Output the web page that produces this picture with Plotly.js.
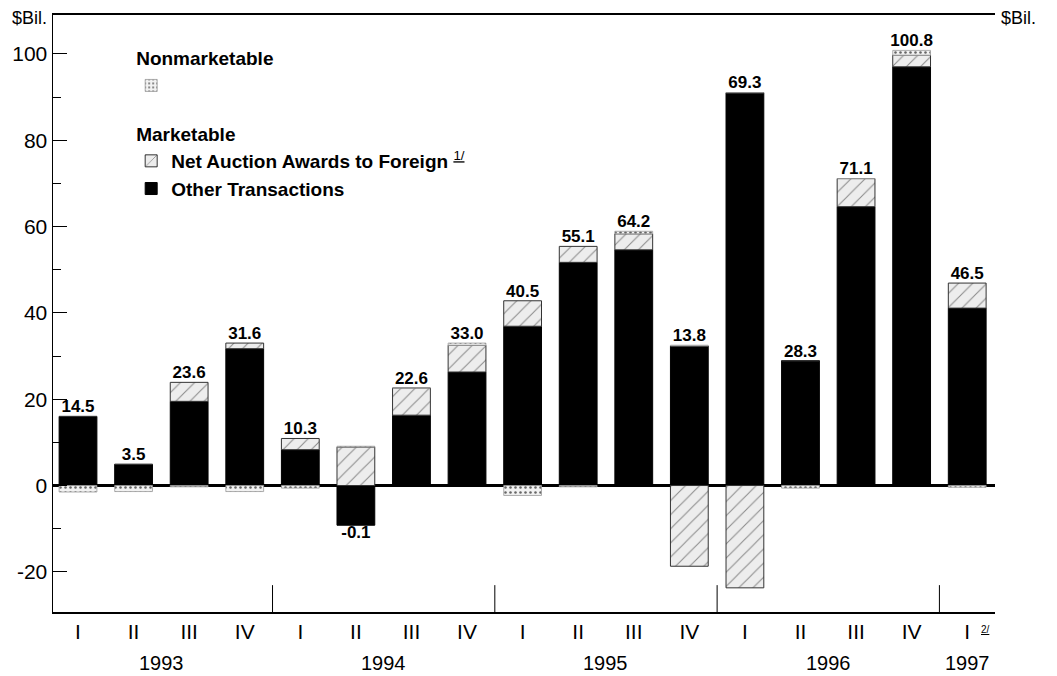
<!DOCTYPE html>
<html>
<head>
<meta charset="utf-8">
<script src="https://cdn.plot.ly/plotly-3.0.1.min.js"></script>
<style>html,body{margin:0;padding:0;background:#fff;}#chart{width:1057px;height:676px;}</style>
</head>
<body>
<div id="chart"></div>
<script>
// Quarter categories and tick labels
const categories = ["1993 I","1993 II","1993 III","1993 IV","1994 I","1994 II","1994 III","1994 IV",
  "1995 I","1995 II","1995 III","1995 IV","1996 I","1996 II","1996 III","1996 IV","1997 I"];
const quarterLabels = ["I","II","III","IV","I","II","III","IV","I","II","III","IV","I","II","III","IV","I"];
const years = ["1993","1994","1995","1996","1997"];
const yearCenters = [1.5, 5.5, 9.5, 13.5, 16];
const yearDividers = [3.5, 7.5, 11.5, 15.5];
const yTickVals = [-20, 0, 20, 40, 60, 80, 100];
const yTickText = ["-20", "0", "20", "40", "60", "80", "100"];

// Series values ($ billions)
const otherTransactions = [16.0, 4.9, 19.5, 31.7, 8.3, -9.2, 16.3, 26.3, 36.9, 51.7, 54.6, 32.3, 91.0, 28.9, 64.6, 97.0, 41.1];
const netAuctionForeign = [0, 0, 4.4, 1.3, 2.6, 8.9, 6.3, 6.2, 5.9, 3.7, 3.7, -18.7, -23.7, 0, 6.5, 2.7, 5.8];
const nonmarketable     = [-1.5, -1.4, -0.3, -1.4, -0.6, 0.2, 0, 0.5, -2.3, -0.3, 0.6, 0.2, 0, -0.6, 0, 1.1, -0.4];
// Printed totals above bars
const totals = [14.5, 3.5, 23.6, 31.6, 10.3, -0.1, 22.6, 33.0, 40.5, 55.1, 64.2, 13.8, 69.3, 28.3, 71.1, 100.8, 46.5];

const FONT = "Liberation Sans, Arial, Helvetica, sans-serif";

// label anchors: top of positive stack or bottom of negative stack
const posTop = categories.map((c,i)=>[otherTransactions[i],netAuctionForeign[i],nonmarketable[i]].filter(v=>v>0).reduce((a,b)=>a+b,0));
const negBot = categories.map((c,i)=>[otherTransactions[i],netAuctionForeign[i],nonmarketable[i]].filter(v=>v<0).reduce((a,b)=>a+b,0));
const labelY = totals.map((t,i)=> t < 0 ? negBot[i] : posTop[i]);
const labelPos = totals.map(t=> t < 0 ? "bottom center" : "top center");

const traces = [
  {
    type: "bar", x: categories, y: otherTransactions, name: "<b>Other Transactions</b>",
    legendgroup: "mkt", legendgrouptitle: {text: "<b>Marketable</b>", font: {size: 19, family: FONT, color: "#000"}},
    legendrank: 3,
    marker: {color: "#000", line: {color: "#000", width: 1}}
  },
  {
    type: "bar", x: categories, y: netAuctionForeign, name: "<b>Net Auction Awards to Foreign</b> <sup><u>1/</u></sup>",
    legendgroup: "mkt", legendrank: 2,
    marker: {color: "#ededed", line: {color: "#333", width: 1},
      pattern: {shape: "/", fgcolor: "#8a8a8a", bgcolor: "#ededed", size: 10, solidity: 0.1}}
  },
  {
    type: "bar", x: categories, y: nonmarketable, name: " ",
    legendgroup: "non", legendgrouptitle: {text: "<b>Nonmarketable</b>", font: {size: 19, family: FONT, color: "#000"}},
    legendrank: 1,
    marker: {color: "#eeeeee", line: {color: "#999", width: 0.8},
      pattern: {shape: ".", fgcolor: "#666", bgcolor: "#f2f2f2", size: 5, solidity: 0.2}}
  },
  {
    type: "scatter", mode: "text", x: categories, y: labelY,
    text: totals.map(v=>"<b>"+v.toFixed(1)+"</b>"), textposition: labelPos,
    textfont: {size: 17, family: FONT, color: "#000"},
    showlegend: false, cliponaxis: false, hoverinfo: "skip"
  }
];

const annotations = years.map((y,i)=>({
  x: yearCenters[i], y: 0, xref: "x", yref: "paper", yanchor: "top", yshift: -38,
  text: y, showarrow: false, font: {size: 20, family: FONT, color: "#000"}
}));
annotations.push({x: 0, y: 1, xref: "paper", yref: "paper", xanchor: "right", yanchor: "middle", xshift: -4, yshift: -3,
  text: "$Bil.", showarrow: false, font: {size: 18, family: FONT, color: "#000"}});
annotations.push({x: 1, y: 1, xref: "paper", yref: "paper", xanchor: "left", yanchor: "middle", xshift: 4, yshift: -3,
  text: "$Bil.", showarrow: false, font: {size: 18, family: FONT, color: "#000"}});
annotations.push({x: categories.length-1, y: 0, xref: "x", yref: "paper", xanchor: "left", yanchor: "top", xshift: 12, yshift: -10,
  text: "<u>2/</u>", showarrow: false, font: {size: 10, family: FONT, color: "#000"}});

const shapes = yearDividers.map(d=>({
  type: "line", xref: "x", yref: "paper", x0: d, x1: d, y0: 0, y1: 0.045,
  line: {color: "#000", width: 1}
}));

const axisY = {
  range: [-29.3, 109], tickmode: "array", tickvals: yTickVals, ticktext: yTickText,
  ticks: "inside", ticklen: 14, tickcolor: "#000", tickwidth: 1,
  showline: true, linecolor: "#000", linewidth: 1.5, showgrid: false, zeroline: false,
  tickfont: {size: 21, family: FONT, color: "#000"},
  minor: {dtick: 10, tick0: 0, ticks: "inside", ticklen: 8, tickcolor: "#000", showgrid: false}
};

const layout = {
  width: 1057, height: 676,
  margin: {l: 53, r: 62, t: 15, b: 64},
  paper_bgcolor: "#fff", plot_bgcolor: "#fff",
  barmode: "relative", bargap: 0.32,
  font: {family: FONT, color: "#000"},
  xaxis: {
    type: "category", categoryorder: "array", categoryarray: categories,
    range: [-0.45, categories.length - 0.5],
    tickvals: categories, ticktext: quarterLabels, ticks: "", ticklen: 0,
    tickfont: {size: 21, family: FONT, color: "#000"},
    showline: true, linecolor: "#000", linewidth: 2, mirror: true, showgrid: false, zeroline: false
  },
  yaxis: Object.assign({}, axisY, {zeroline: true, zerolinecolor: "#000", zerolinewidth: 3}),
  yaxis2: Object.assign({}, axisY, {overlaying: "y", side: "right"}),
  showlegend: true,
  legend: {
    x: 0.083, y: 0.96, xanchor: "left", yanchor: "top", bgcolor: "rgba(0,0,0,0)",
    traceorder: "grouped", tracegroupgap: 20,
    font: {size: 19, family: FONT, color: "#000"}
  },
  annotations: annotations,
  shapes: shapes
};

Plotly.newPlot("chart", traces, layout, {displayModeBar: false, staticPlot: true});
</script>
</body>
</html>
